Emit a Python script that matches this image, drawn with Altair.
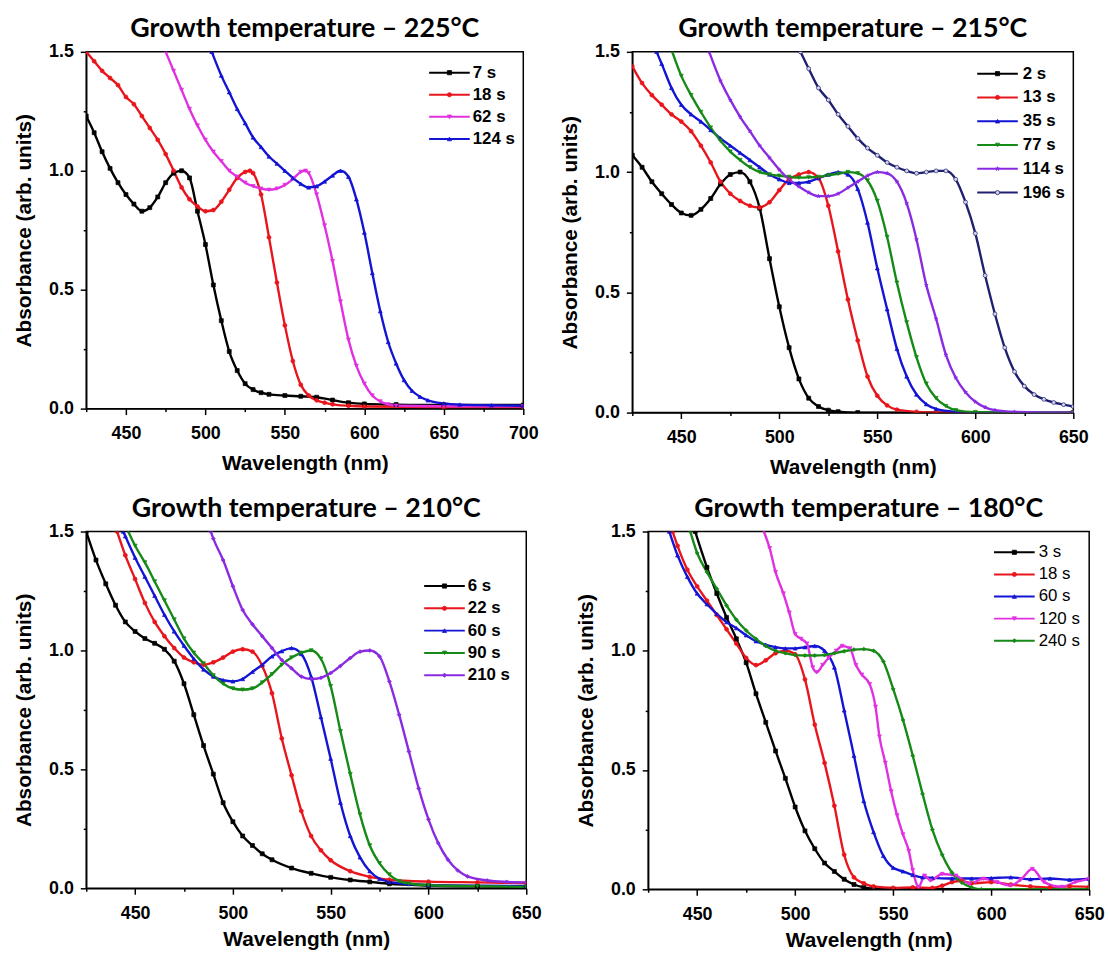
import altair as alt
import pandas as pd

# ---------------- Panel A : 225 °C ----------------
A_title = "Growth temperature – 225°C"
A_labels = ["7 s", "18 s", "62 s", "124 s"]
A_colors = ["#000000", "#e8161c", "#e030e0", "#1414d4"]
A_shapes = ["square", "circle", "triangle-down", "triangle-up"]
A7_wl = [425,430,435,440,445,450,455,460,465,470,475,480,485,490,495,500,505,510,515,520,525,530,535,540,550,560,570,580,590,600,620,650,700]
A7_ab = [1.23,1.16,1.08,1.01,0.95,0.90,0.86,0.83,0.845,0.89,0.95,0.99,1.00,0.97,0.83,0.69,0.52,0.37,0.24,0.16,0.105,0.08,0.067,0.06,0.055,0.052,0.048,0.036,0.025,0.02,0.017,0.015,0.015]
A18_wl = [425,430,435,440,445,450,455,460,465,470,475,480,485,490,495,500,505,510,515,520,525,528,530,535,540,545,550,555,560,565,570,575,580,590,600,650,700]
A18_ab = [1.50,1.46,1.42,1.39,1.36,1.31,1.28,1.23,1.18,1.13,1.07,1.00,0.93,0.88,0.85,0.83,0.835,0.87,0.92,0.97,0.995,1.00,0.99,0.90,0.72,0.53,0.35,0.20,0.10,0.055,0.035,0.025,0.018,0.012,0.009,0.007,0.007]
A62_wl = [475,480,485,490,495,500,505,510,515,520,525,530,535,540,545,550,555,560,563,565,570,575,580,585,590,595,600,605,610,615,620,650,700]
A62_ab = [1.50,1.42,1.34,1.26,1.19,1.13,1.08,1.04,1.00,0.975,0.95,0.935,0.925,0.92,0.925,0.94,0.965,0.995,1.00,0.99,0.90,0.77,0.62,0.45,0.29,0.18,0.105,0.055,0.03,0.018,0.012,0.01,0.01]
A124_wl = [504,510,515,520,525,530,535,540,545,550,555,560,565,570,575,580,585,590,595,600,605,610,615,620,625,630,635,640,650,660,680,700]
A124_ab = [1.50,1.40,1.33,1.26,1.20,1.14,1.10,1.06,1.03,1.00,0.97,0.945,0.93,0.935,0.955,0.98,1.00,0.975,0.88,0.74,0.57,0.41,0.28,0.19,0.12,0.075,0.05,0.035,0.022,0.017,0.014,0.012]

# ---------------- Panel B : 215 °C ----------------
B_title = "Growth temperature – 215°C"
B_labels = ["2 s", "13 s", "35 s", "77 s", "114 s", "196 s"]
B_colors = ["#000000", "#e8161c", "#1414d4", "#168a16", "#8a2be2", "#202070"]
B_fills = ["#000000", "#e8161c", "#1414d4", "#168a16", "#8a2be2", "#d4d4ec"]
STAR = "M0,-1L0.225,-0.31L0.95,-0.31L0.36,0.12L0.59,0.81L0,0.38L-0.59,0.81L-0.36,0.12L-0.95,-0.31L-0.225,-0.31Z"
B_shapes = ["square", "circle", "triangle-up", "triangle-down", STAR, "circle"]
B2_wl = [425,430,435,440,445,450,455,460,465,470,475,480,485,490,495,500,505,510,515,520,525,530,540,650]
B2_ab = [1.07,1.02,0.96,0.91,0.865,0.83,0.82,0.845,0.89,0.95,0.99,1.00,0.96,0.85,0.64,0.44,0.27,0.14,0.06,0.025,0.01,0.004,0.0,0.0]
B13_wl = [425,430,435,440,445,450,455,460,465,470,475,480,485,490,495,500,505,510,515,520,525,530,535,540,545,550,555,560,570,580,650]
B13_ab = [1.44,1.37,1.32,1.28,1.24,1.21,1.17,1.11,1.04,0.96,0.91,0.88,0.86,0.853,0.875,0.925,0.97,0.99,1.0,0.975,0.86,0.67,0.47,0.30,0.15,0.07,0.03,0.012,0.003,0.0,0.0]
B35_wl = [437.4,440,445,450,455,460,465,470,475,480,485,490,495,500,505,510,515,520,525,530,535,540,545,550,555,560,565,570,575,580,590,600,650]
B35_ab = [1.50,1.45,1.35,1.28,1.24,1.21,1.175,1.14,1.11,1.08,1.05,1.02,0.99,0.97,0.955,0.955,0.96,0.975,0.99,1.0,0.99,0.93,0.79,0.60,0.43,0.265,0.15,0.075,0.035,0.015,0.003,0.0,0.0]
B77_wl = [445.4,450,455,460,465,470,475,480,485,490,495,500,505,510,515,520,525,530,535,540,545,550,555,560,565,570,575,580,585,590,600,650]
B77_ab = [1.50,1.40,1.32,1.25,1.185,1.13,1.085,1.05,1.02,1.00,0.99,0.985,0.98,0.977,0.978,0.98,0.987,0.993,1.0,0.995,0.965,0.88,0.73,0.54,0.375,0.23,0.12,0.06,0.027,0.01,0.002,0.0]
B114_wl = [464.2,470,475,480,485,490,495,500,505,510,515,520,525,530,535,540,545,550,555,560,565,570,575,580,585,590,595,600,605,610,620,650]
B114_ab = [1.50,1.38,1.30,1.23,1.17,1.11,1.06,1.01,0.97,0.94,0.915,0.9,0.9,0.91,0.935,0.96,0.985,1.0,0.995,0.96,0.87,0.72,0.53,0.39,0.24,0.145,0.085,0.045,0.022,0.01,0.003,0.0]
B196_wl = [510.8,515,520,525,530,535,540,545,550,555,560,565,570,575,580,585,590,595,600,605,610,615,620,625,630,635,640,645,650]
B196_ab = [1.50,1.43,1.35,1.30,1.24,1.19,1.14,1.10,1.07,1.04,1.02,1.005,0.995,1.0,1.005,1.005,0.97,0.875,0.745,0.57,0.41,0.27,0.17,0.11,0.075,0.055,0.042,0.033,0.025]

# ---------------- Panel C : 210 °C ----------------
C_title = "Growth temperature – 210°C"
C_labels = ["6 s", "22 s", "60 s", "90 s", "210 s"]
C_colors = ["#000000", "#e8161c", "#1414d4", "#168a16", "#8a2be2"]
C_shapes = ["square", "circle", "triangle-up", "triangle-down", "diamond"]
C6_wl = [425,430,435,440,445,450,455,460,465,470,475,480,485,490,495,500,505,510,515,520,530,540,550,560,570,580,600,625,650]
C6_ab = [1.50,1.38,1.28,1.19,1.12,1.08,1.05,1.03,1.005,0.955,0.86,0.73,0.60,0.48,0.36,0.28,0.22,0.18,0.145,0.12,0.085,0.063,0.046,0.035,0.027,0.019,0.012,0.008,0.005]
C22_wl = [440.8,445,450,455,460,465,470,475,480,485,490,495,500,505,510,515,520,525,530,535,540,545,550,560,570,580,600,625,650]
C22_ab = [1.50,1.40,1.30,1.20,1.12,1.06,1.01,0.97,0.95,0.94,0.95,0.97,0.995,1.005,0.995,0.935,0.82,0.63,0.475,0.325,0.22,0.16,0.118,0.072,0.048,0.036,0.028,0.025,0.022]
C60_wl = [443.9,445,450,455,460,465,470,475,480,485,490,495,500,505,510,515,520,525,530,535,540,545,550,555,560,565,570,575,580,590,600,650]
C60_ab = [1.50,1.48,1.39,1.31,1.23,1.15,1.08,1.02,0.965,0.92,0.89,0.875,0.87,0.88,0.91,0.94,0.975,0.997,1.01,0.985,0.89,0.72,0.545,0.36,0.22,0.13,0.072,0.04,0.027,0.018,0.014,0.01]
C90_wl = [446.5,450,455,460,465,470,475,480,485,490,495,500,505,510,515,520,525,530,535,540,545,550,555,560,565,570,575,580,585,590,600,625,650]
C90_ab = [1.50,1.44,1.37,1.29,1.21,1.13,1.05,0.99,0.945,0.895,0.86,0.84,0.835,0.84,0.865,0.9,0.94,0.97,0.99,1.0,0.965,0.85,0.66,0.48,0.31,0.18,0.105,0.058,0.03,0.02,0.013,0.009,0.006]
C210_wl = [488.7,490,495,500,505,510,515,520,525,530,535,540,545,550,555,560,565,570,575,580,585,590,595,600,605,610,615,620,630,640,650]
C210_ab = [1.50,1.47,1.38,1.27,1.17,1.11,1.06,1.01,0.96,0.925,0.89,0.88,0.885,0.905,0.935,0.968,0.995,1.0,0.975,0.87,0.73,0.575,0.42,0.29,0.19,0.12,0.075,0.05,0.033,0.027,0.025]

# ---------------- Panel D : 180 °C ----------------
D_title = "Growth temperature – 180°C"
D_labels = ["3 s", "18 s", "60 s", "120 s", "240 s"]
D_colors = ["#000000", "#e8161c", "#1414d4", "#e030e0", "#168a16"]
D_shapes = ["square", "circle", "triangle-up", "triangle-down", "diamond"]
D3_wl = [449,455,460,465,470,475,480,485,490,495,500,505,510,515,520,525,530,535,540,550,650]
D3_ab = [1.50,1.35,1.24,1.14,1.05,0.95,0.82,0.70,0.58,0.465,0.345,0.245,0.17,0.11,0.075,0.042,0.02,0.008,0.003,0.0,0.0]
D18_wl = [437.5,440,445,450,455,460,465,470,475,480,485,490,495,500,505,510,515,520,525,530,535,540,550,560,570,575,580,585,590,600,610,620,630,640,650]
D18_ab = [1.50,1.44,1.34,1.27,1.21,1.15,1.09,1.03,0.97,0.94,0.96,0.99,1.0,0.985,0.88,0.69,0.53,0.35,0.145,0.05,0.025,0.012,0.006,0.008,0.006,0.015,0.03,0.035,0.025,0.03,0.02,0.012,0.008,0.012,0.01]
D60_wl = [435.8,440,445,450,455,460,465,470,475,480,485,490,495,500,505,510,515,520,525,530,535,540,545,550,555,560,565,570,580,590,600,610,620,630,640,650]
D60_ab = [1.50,1.40,1.31,1.24,1.195,1.155,1.12,1.095,1.065,1.04,1.025,1.015,1.01,1.01,1.015,1.02,1.0,0.93,0.75,0.56,0.37,0.24,0.14,0.09,0.075,0.06,0.05,0.048,0.045,0.045,0.047,0.05,0.042,0.045,0.04,0.044]
D120_wl = [484,487,490,494,497,500,503,506,509,511,514,517,521,524,528,531,534,538,541,543,546,549,552,555,558,560,563,566,569,575,582,589,596,603,610,615,621,627,636,643,650]
D120_ab = [1.50,1.43,1.33,1.24,1.16,1.07,1.05,1.03,0.93,0.91,0.94,0.97,1.0,1.02,1.01,0.94,0.9,0.86,0.765,0.64,0.53,0.41,0.31,0.23,0.16,0.08,0.01,0.057,0.037,0.064,0.057,0.023,0.044,0.03,0.016,0.04,0.085,0.03,0.01,0.03,0.044]
D240_wl = [446.5,450,455,460,465,470,475,480,485,490,495,500,505,510,515,520,525,530,535,540,545,550,555,560,565,570,575,580,585,590,595,650]
D240_ab = [1.50,1.41,1.33,1.26,1.19,1.13,1.085,1.05,1.02,1.0,0.99,0.982,0.98,0.98,0.982,0.99,0.998,1.005,1.007,1.0,0.955,0.84,0.71,0.56,0.4,0.25,0.145,0.07,0.028,0.008,0.0,0.0]

X_TITLE = "Wavelength (nm)"
Y_TITLE = "Absorbance (arb. units)"

LABEL_FONT = "Liberation Sans"
TITLE_FONT = "Lato"


def build_df(pid, labels, series):
    rows = []
    for lab, (wl, ab) in zip(labels, series):
        for w, a in zip(wl, ab):
            rows.append({"key": pid + ":" + lab, "wl": w, "ab": a})
    return pd.DataFrame(rows)


def panel(pid, title, labels, colors, fills, shapes, series, xmax, w, h,
          ytp, xtp, leg, legend_bold=True):
    df = build_df(pid, labels, series)
    keys = [pid + ":" + lab for lab in labels]
    lx0, lx1, tx, y0, dy = leg
    leg_df = pd.DataFrame({
        "key": keys,
        "txt": [pid + "|" + lab for lab in labels],
        "ly": [y0 + i * dy for i in range(len(labels))],
    })
    xvals = list(range(425, xmax + 1, 25))
    x_axis = alt.Axis(
        values=xvals, title=X_TITLE,
        labelExpr="datum.value % 50 === 0 ? datum.label : ''",
        tickSize={"condition": {"test": "datum.value % 50 === 0", "value": 6}, "value": 3},
        labelPadding=10, titlePadding=xtp, grid=False, labelFlush=False, labelOverlap=False,
    )
    y_axis = alt.Axis(
        values=[0, 0.25, 0.5, 0.75, 1.0, 1.25, 1.5], title=Y_TITLE, format=".1f",
        labelExpr="round(datum.value*100) % 50 === 0 ? datum.label : ''",
        tickSize={"condition": {"test": "round(datum.value*100) % 50 === 0", "value": 6}, "value": 3},
        labelPadding=7, titlePadding=ytp, grid=False, labelFlush=False, labelOverlap=False,
    )
    xs = alt.Scale(domain=[425, xmax], nice=False, zero=False)
    ys = alt.Scale(domain=[0, 1.5], nice=False)
    cs = alt.Scale(domain=keys, range=colors)
    ss = alt.Scale(domain=keys, range=shapes)
    fs = alt.Scale(domain=keys, range=fills)
    base = alt.Chart(df)
    lines = base.mark_line(interpolate="monotone", strokeWidth=2.4, clip=True).encode(
        x=alt.X("wl:Q", scale=xs, axis=x_axis),
        y=alt.Y("ab:Q", scale=ys, axis=y_axis),
        color=alt.Color("key:N", scale=cs, legend=None),
    )
    pts = base.mark_point(filled=True, size=16, strokeWidth=0.7, opacity=1, clip=True).encode(
        x=alt.X("wl:Q", scale=xs),
        y=alt.Y("ab:Q", scale=ys),
        shape=alt.Shape("key:N", scale=ss, legend=None),
        fill=alt.Fill("key:N", scale=fs, legend=None),
        stroke=alt.Stroke("key:N", scale=cs, legend=None),
    )
    lbase = alt.Chart(leg_df)
    lrule = lbase.mark_rule(strokeWidth=2).encode(
        x=alt.value(lx0), x2=alt.value(lx1),
        y=alt.Y("ly:Q", scale=None, axis=None),
        color=alt.Color("key:N", scale=cs, legend=None),
    )
    lpt = lbase.mark_point(filled=True, size=18, strokeWidth=0.8, opacity=1).encode(
        x=alt.value((lx0 + lx1) / 2),
        y=alt.Y("ly:Q", scale=None, axis=None),
        shape=alt.Shape("key:N", scale=ss, legend=None),
        fill=alt.Fill("key:N", scale=fs, legend=None),
        stroke=alt.Stroke("key:N", scale=cs, legend=None),
    )
    ltxt = lbase.transform_calculate(
        lab="split(datum.txt, '|')[1]"
    ).mark_text(align="left", baseline="middle", font=LABEL_FONT, fontSize=17,
                fontWeight="bold" if legend_bold else "normal", color="black").encode(
        x=alt.value(tx),
        y=alt.Y("ly:Q", scale=None, axis=None),
        text=alt.Text("lab:N"),
    )
    return alt.layer(lines, pts, lrule, lpt, ltxt).properties(
        width=w, height=h,
        title=alt.TitleParams(title, font=TITLE_FONT, fontSize=27, fontWeight="bold",
                              color="black", anchor="middle", offset=0),
    )


IND = dict(color="independent", fill="independent", stroke="independent", shape="independent")

pA = panel("A", A_title, A_labels, A_colors, A_colors, A_shapes,
           [(A7_wl, A7_ab), (A18_wl, A18_ab), (A62_wl, A62_ab), (A124_wl, A124_ab)],
           700, 441, 360, 14, 10, (346, 387, 390, 21, 22.3))
pB = panel("B", B_title, B_labels, B_colors, B_fills, B_shapes,
           [(B2_wl, B2_ab), (B13_wl, B13_ab), (B35_wl, B35_ab), (B77_wl, B77_ab),
            (B114_wl, B114_ab), (B196_wl, B196_ab)],
           650, 445, 364, 14, 10, (348, 389, 394, 22, 24))
pC = panel("C", C_title, C_labels, C_colors, C_colors, C_shapes,
           [(C6_wl, C6_ab), (C22_wl, C22_ab), (C60_wl, C60_ab), (C90_wl, C90_ab), (C210_wl, C210_ab)],
           650, 444, 360, 14, 7, (341, 382, 385, 55, 22.5))
pD = panel("D", D_title, D_labels, D_colors, D_colors, D_shapes,
           [(D3_wl, D3_ab), (D18_wl, D18_ab), (D60_wl, D60_ab), (D120_wl, D120_ab), (D240_wl, D240_ab)],
           650, 445, 361, 14, 7, (349, 390, 394, 21, 22.3), legend_bold=False)

top = alt.hconcat(pA, pB, spacing=20).resolve_scale(**IND)
bottom = alt.hconcat(pC, pD, spacing=33).resolve_scale(**IND)
chart = alt.vconcat(top, bottom, spacing=16).resolve_scale(**IND).properties(
    padding={"left": 13, "top": 10, "right": 5, "bottom": 0},
    background="white",
).configure_view(stroke="black", strokeWidth=1.5).configure_axis(
    domainColor="black", domainWidth=1.5, tickColor="black", tickWidth=1.5,
    labelFont=LABEL_FONT, labelFontSize=18, labelFontWeight="bold", labelColor="black",
    titleFont=LABEL_FONT, titleFontSize=21, titleFontWeight="bold", titleColor="black",
)

chart.save("out.html", embed_options={"renderer": "svg", "actions": False})
